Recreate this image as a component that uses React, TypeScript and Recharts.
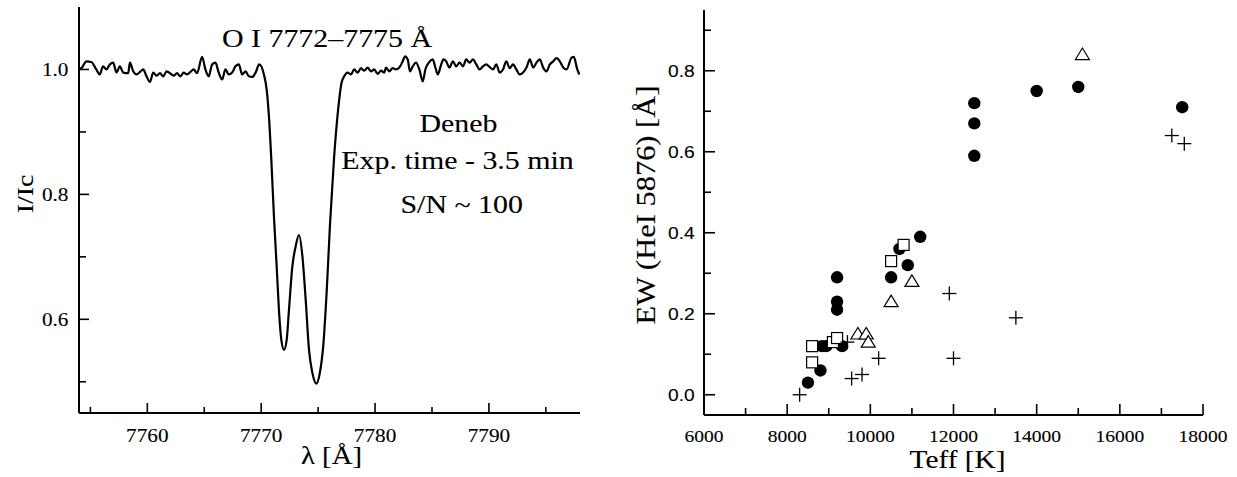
import React from 'react';
import { LineChart, Line, ScatterChart, Scatter, XAxis, YAxis } from 'recharts';

const SERIF = '"Liberation Serif", "Times New Roman", Times, serif';
const SANS = '"Liberation Sans", Arial, Helvetica, sans-serif';
const SX = 1.15;
const TEXT_STROKE = 0.12;

// ---- Left panel: O I 7772-7775 spectrum of Deneb ----
const wavelength = [
  7754.05, 7754.26, 7754.64, 7755.08, 7755.52, 7755.82, 7756.11, 7756.41, 7756.70, 7757.00,
  7757.29, 7757.59, 7757.88, 7758.32, 7758.47, 7758.76, 7759.05, 7759.35, 7759.64, 7759.93,
  7760.23, 7760.52, 7760.81, 7761.11, 7761.40, 7761.69, 7762.13, 7762.31, 7762.61, 7762.90,
  7763.19, 7763.49, 7763.78, 7764.07, 7764.37, 7764.81, 7765.10, 7765.39, 7765.69, 7765.98,
  7766.27, 7766.57, 7766.86, 7767.15, 7767.45, 7767.74, 7768.04, 7768.33, 7768.63, 7768.92,
  7769.22, 7769.51, 7769.83, 7770.24, 7770.48, 7770.68, 7770.89, 7771.12, 7771.36, 7771.56,
  7771.77, 7772.00, 7772.24, 7772.44, 7772.74, 7773.03, 7773.32, 7773.62, 7773.91, 7774.20,
  7774.50, 7774.85, 7775.15, 7775.47, 7775.76, 7776.05, 7776.41, 7776.76, 7777.06, 7777.29,
  7777.59, 7777.88, 7778.17, 7778.47, 7778.76, 7779.05, 7779.35, 7779.64, 7779.93, 7780.23,
  7780.52, 7780.81, 7780.96, 7781.25, 7781.55, 7781.84, 7782.13, 7782.43, 7782.63, 7782.87,
  7783.07, 7783.31, 7783.60, 7783.89, 7784.19, 7784.42, 7784.72, 7785.07, 7785.30, 7785.51,
  7785.81, 7786.01, 7786.25, 7786.54, 7786.84, 7787.13, 7787.42, 7787.72, 7788.01, 7788.30,
  7788.60, 7788.89, 7789.18, 7789.48, 7789.77, 7790.06, 7790.36, 7790.65, 7790.94, 7791.24,
  7791.53, 7791.82, 7792.12, 7792.41, 7792.70, 7793.00, 7793.30, 7793.59, 7793.89, 7794.18,
  7794.47, 7794.77, 7795.06, 7795.35, 7795.65, 7795.94, 7796.23, 7796.53, 7796.82, 7797.26,
  7797.46, 7797.76, 7797.95,
];
const intensity = [
  1.001, 1.003, 1.013, 1.012, 1.000, 0.992, 1.005, 1.000, 1.008, 1.011,
  0.995, 1.005, 0.995, 0.994, 1.011, 0.997, 0.992, 0.996, 1.000, 0.989,
  0.980, 0.995, 0.990, 0.994, 0.989, 0.997, 0.992, 0.990, 0.994, 0.989,
  0.995, 0.992, 0.996, 1.000, 0.994, 1.020, 1.000, 0.989, 1.008, 1.011,
  0.995, 0.984, 1.000, 0.992, 0.995, 1.005, 1.008, 0.992, 0.997, 0.989,
  0.988, 0.995, 1.008, 0.992, 0.968, 0.925, 0.856, 0.765, 0.685, 0.615,
  0.567, 0.551, 0.567, 0.615, 0.685, 0.717, 0.735, 0.701, 0.631, 0.551,
  0.514, 0.497, 0.514, 0.562, 0.647, 0.754, 0.861, 0.936, 0.979, 0.989,
  0.995, 0.992, 1.000, 0.995, 1.002, 0.998, 1.003, 0.997, 1.000, 0.993,
  0.998, 0.995, 1.003, 0.997, 1.002, 1.000, 1.003, 1.013, 1.021, 1.016,
  0.997, 1.005, 1.011, 1.000, 0.981, 1.000, 1.011, 1.016, 1.003, 0.992,
  1.008, 1.016, 1.013, 1.003, 1.013, 1.005, 1.011, 1.005, 1.016, 1.011,
  1.016, 1.008, 1.000, 1.005, 1.008, 1.004, 1.000, 1.008, 0.995, 1.000,
  1.013, 1.002, 1.008, 1.000, 0.992, 0.995, 1.003, 1.016, 1.003, 1.011,
  1.016, 1.003, 0.997, 1.008, 1.013, 1.018, 1.013, 1.003, 1.000, 1.019,
  1.020, 1.000, 0.992,
];
const lambdaDomain = [7754, 7798];
const lambdaTicks = [7755, 7760, 7765, 7770, 7775, 7780, 7785, 7790, 7795];
const lambdaMajor = [7760, 7770, 7780, 7790];
const iDomain = [0.45, 1.1];
const iTicks = [0.5, 0.6, 0.7, 0.8, 0.9, 1.0];
const iMajor = [0.6, 0.8, 1.0];

// ---- Right panel: EW(HeI 5876) vs Teff ----
const filledTeff = [8500, 8800, 8840, 8940, 9320, 9200, 9200, 9200, 10500, 10700, 10900, 11200, 12500, 12500, 12500, 14000, 15000, 17500];
const filledEW = [0.03, 0.06, 0.12, 0.12, 0.12, 0.29, 0.23, 0.21, 0.29, 0.36, 0.32, 0.39, 0.72, 0.67, 0.59, 0.75, 0.76, 0.71];
const squareTeff = [8600, 8600, 9100, 9200, 10500, 10800];
const squareEW = [0.12, 0.08, 0.13, 0.14, 0.33, 0.37];
const triangleTeff = [9700, 9900, 9950, 10500, 11000, 15100];
const triangleEW = [0.15, 0.15, 0.13, 0.23, 0.28, 0.84];
const plusTeff = [8300, 9450, 9550, 9800, 10200, 11900, 12000, 13500, 17250, 17550];
const plusEW = [0.0, 0.13, 0.04, 0.05, 0.09, 0.25, 0.09, 0.19, 0.64, 0.62];

const teffDomain = [6000, 18000];
const teffTicks = [6000, 7000, 8000, 9000, 10000, 11000, 12000, 13000, 14000, 15000, 16000, 17000, 18000];
const teffMajor = [6000, 8000, 10000, 12000, 14000, 16000, 18000];
const ewDomain = [-0.05, 0.95];
const ewTicks = [0.0, 0.1, 0.2, 0.3, 0.4, 0.5, 0.6, 0.7, 0.8, 0.9];
const ewMajor = [0.0, 0.2, 0.4, 0.6, 0.8];

const spectrum = wavelength.map((x, i) => ({ x, y: intensity[i] }));
const toPts = (xs: number[], ys: number[]) => xs.map((x, i) => ({ x, y: ys[i] }));

type Side = 'bottom' | 'top' | 'left' | 'right';
interface TickCfg {
  side: Side;
  majors: number[];
  showLabels: boolean;
  fmt?: (v: number) => string;
  family?: string;
  size?: number;
  majorLen: number;
  minorLen: number;
  gap?: number;
}
const near = (v: number, arr: number[]) => arr.some((a) => Math.abs(a - v) < 1e-6);

function makeTick(c: TickCfg) {
  return function TickMark(props: any) {
    const x = Number(props.x);
    const y = Number(props.y);
    const v = Number(props.payload?.value);
    const major = near(v, c.majors);
    const len = major ? c.majorLen : c.minorLen;
    let x2 = x;
    let y2 = y;
    if (c.side === 'bottom') y2 = y - len;
    if (c.side === 'top') y2 = y + len;
    if (c.side === 'left') x2 = x + len;
    if (c.side === 'right') x2 = x - len;
    let label: React.ReactNode = null;
    if (c.showLabels && major && c.fmt) {
      if (c.side === 'bottom') {
        label = (
          <text
            transform={`translate(${x},${y + (c.gap || 0)}) scale(${SX},1)`}
            textAnchor="middle"
            fontFamily={c.family}
            fontSize={c.size}
            fill="#000"
            stroke="#000"
            strokeWidth={TEXT_STROKE}
          >
            {c.fmt(v)}
          </text>
        );
      } else if (c.side === 'left') {
        label = (
          <text
            transform={`translate(${x - (c.gap || 0)},${y}) scale(${SX},1)`}
            textAnchor="end"
            dy="0.35em"
            fontFamily={c.family}
            fontSize={c.size}
            fill="#000"
            stroke="#000"
            strokeWidth={TEXT_STROKE}
          >
            {c.fmt(v)}
          </text>
        );
      }
    }
    return (
      <g>
        <line x1={x} y1={y} x2={x2} y2={y2} stroke="#000" strokeWidth={1.6} />
        {label}
      </g>
    );
  };
}

const axisLine = { stroke: '#000', strokeWidth: 2 };

const FilledCircle = (p: any) => <circle cx={p.cx} cy={p.cy} r={6.2} fill="#000" />;
const OpenSquare = (p: any) => (
  <rect x={p.cx - 5.5} y={p.cy - 5.5} width={11} height={11} fill="#fff" stroke="#000" strokeWidth={1.2} />
);
const OpenTriangle = (p: any) => (
  <polygon
    points={`${p.cx},${p.cy - 6.5} ${p.cx - 7},${p.cy + 5} ${p.cx + 7},${p.cy + 5}`}
    fill="#fff"
    stroke="#000"
    strokeWidth={1.2}
  />
);
const Plus = (p: any) => (
  <g stroke="#000" strokeWidth={1.3}>
    <line x1={p.cx - 7} y1={p.cy} x2={p.cx + 7} y2={p.cy} />
    <line x1={p.cx} y1={p.cy - 7} x2={p.cx} y2={p.cy + 7} />
  </g>
);

function T(props: {
  x: number;
  y: number;
  size: number;
  family?: string;
  rotate?: boolean;
  anchor?: 'start' | 'middle' | 'end';
  children: React.ReactNode;
}) {
  const { x, y, size, family = SERIF, rotate = false, anchor = 'middle', children } = props;
  const tr = rotate
    ? `translate(${x},${y}) rotate(-90) scale(${SX},1)`
    : `translate(${x},${y}) scale(${SX},1)`;
  return (
    <text
      transform={tr}
      textAnchor={anchor}
      fontFamily={family}
      fontSize={size}
      fill="#000"
      stroke="#000"
      strokeWidth={TEXT_STROKE}
    >
      {children}
    </text>
  );
}

export default function App() {
  return (
    <div style={{ position: 'absolute', left: 0, top: 0, width: 1237, height: 477, background: '#fff' }}>
      <div style={{ position: 'absolute', left: 0, top: 0 }}>
        <LineChart width={600} height={477} data={spectrum} margin={{ top: 7, right: 20, bottom: 0, left: 0 }}>
          <XAxis
            dataKey="x"
            type="number"
            domain={lambdaDomain}
            ticks={lambdaTicks}
            interval={0}
            height={64}
            tickSize={0}
            tickMargin={0}
            axisLine={axisLine}
            tickLine={false}
            allowDataOverflow
            tick={makeTick({
              side: 'bottom',
              majors: lambdaMajor,
              showLabels: true,
              fmt: (v) => String(v),
              family: SERIF,
              size: 18.5,
              majorLen: 10,
              minorLen: 6,
              gap: 29,
            })}
          />
          <XAxis
            xAxisId="top"
            orientation="top"
            type="number"
            domain={lambdaDomain}
            ticks={lambdaTicks}
            interval={0}
            height={0}
            tickSize={0}
            tickMargin={0}
            axisLine={axisLine}
            tickLine={false}
            allowDataOverflow
            tick={makeTick({ side: 'top', majors: lambdaMajor, showLabels: false, majorLen: 10, minorLen: 6 })}
          />
          <YAxis
            type="number"
            domain={iDomain}
            ticks={iTicks}
            interval={0}
            width={79}
            tickSize={0}
            tickMargin={0}
            axisLine={axisLine}
            tickLine={false}
            allowDataOverflow
            tick={makeTick({
              side: 'left',
              majors: iMajor,
              showLabels: true,
              fmt: (v) => v.toFixed(1),
              family: SERIF,
              size: 18.5,
              majorLen: 10,
              minorLen: 7,
              gap: 10.5,
            })}
          />
          <YAxis
            yAxisId="right"
            orientation="right"
            type="number"
            domain={iDomain}
            ticks={iTicks}
            interval={0}
            width={0}
            tickSize={0}
            tickMargin={0}
            axisLine={axisLine}
            tickLine={false}
            allowDataOverflow
            tick={makeTick({ side: 'right', majors: iMajor, showLabels: false, majorLen: 10, minorLen: 7 })}
          />
          <Line
            dataKey="y"
            type="monotone"
            stroke="#000"
            strokeWidth={2.2}
            dot={false}
            activeDot={false}
            isAnimationActive={false}
          />
        </LineChart>
      </div>

      <div style={{ position: 'absolute', left: 600, top: 0 }}>
        <ScatterChart width={637} height={477} margin={{ top: 10, right: 34, bottom: 0, left: 0 }}>
          <XAxis
            dataKey="x"
            type="number"
            domain={teffDomain}
            ticks={teffTicks}
            interval={0}
            height={62}
            tickSize={0}
            tickMargin={0}
            axisLine={axisLine}
            tickLine={false}
            allowDataOverflow
            tick={makeTick({
              side: 'bottom',
              majors: teffMajor,
              showLabels: true,
              fmt: (v) => String(v),
              family: SERIF,
              size: 17,
              majorLen: 11,
              minorLen: 7,
              gap: 27,
            })}
          />
          <XAxis
            xAxisId="top"
            orientation="top"
            type="number"
            domain={teffDomain}
            ticks={teffTicks}
            interval={0}
            height={0}
            tickSize={0}
            tickMargin={0}
            axisLine={axisLine}
            tickLine={false}
            allowDataOverflow
            tick={makeTick({ side: 'top', majors: teffMajor, showLabels: false, majorLen: 11, minorLen: 7 })}
          />
          <YAxis
            dataKey="y"
            type="number"
            domain={ewDomain}
            ticks={ewTicks}
            interval={0}
            width={104}
            tickSize={0}
            tickMargin={0}
            axisLine={axisLine}
            tickLine={false}
            allowDataOverflow
            tick={makeTick({
              side: 'left',
              majors: ewMajor,
              showLabels: true,
              fmt: (v) => v.toFixed(1),
              family: SANS,
              size: 16.7,
              majorLen: 11,
              minorLen: 7,
              gap: 9.3,
            })}
          />
          <YAxis
            yAxisId="right"
            orientation="right"
            type="number"
            domain={ewDomain}
            ticks={ewTicks}
            interval={0}
            width={0}
            tickSize={0}
            tickMargin={0}
            axisLine={axisLine}
            tickLine={false}
            allowDataOverflow
            tick={makeTick({ side: 'right', majors: ewMajor, showLabels: false, majorLen: 11, minorLen: 7 })}
          />
          <Scatter data={toPts(filledTeff, filledEW)} shape={FilledCircle} isAnimationActive={false} />
          <Scatter data={toPts(squareTeff, squareEW)} shape={OpenSquare} isAnimationActive={false} />
          <Scatter data={toPts(triangleTeff, triangleEW)} shape={OpenTriangle} isAnimationActive={false} />
          <Scatter data={toPts(plusTeff, plusEW)} shape={Plus} isAnimationActive={false} />
        </ScatterChart>
      </div>

      <svg
        width={1237}
        height={477}
        style={{ position: 'absolute', left: 0, top: 0, pointerEvents: 'none' }}
      >
        <T x={327} y={47} size={26}>O I 7772–7775 Å</T>
        <T x={458.5} y={132} size={26}>Deneb</T>
        <T x={457.5} y={169} size={26}>Exp. time - 3.5 min</T>
        <T x={461.7} y={213} size={26}>S/N ~ 100</T>
        <T x={33} y={194} size={24} rotate>I/Ic</T>
        <T x={331.5} y={464} size={25}>λ [Å]</T>
        <T x={655} y={205} size={26.5} rotate>EW (HeI 5876) [Å]</T>
        <T x={957.5} y={468} size={25.5}>Teff [K]</T>
      </svg>
    </div>
  );
}
